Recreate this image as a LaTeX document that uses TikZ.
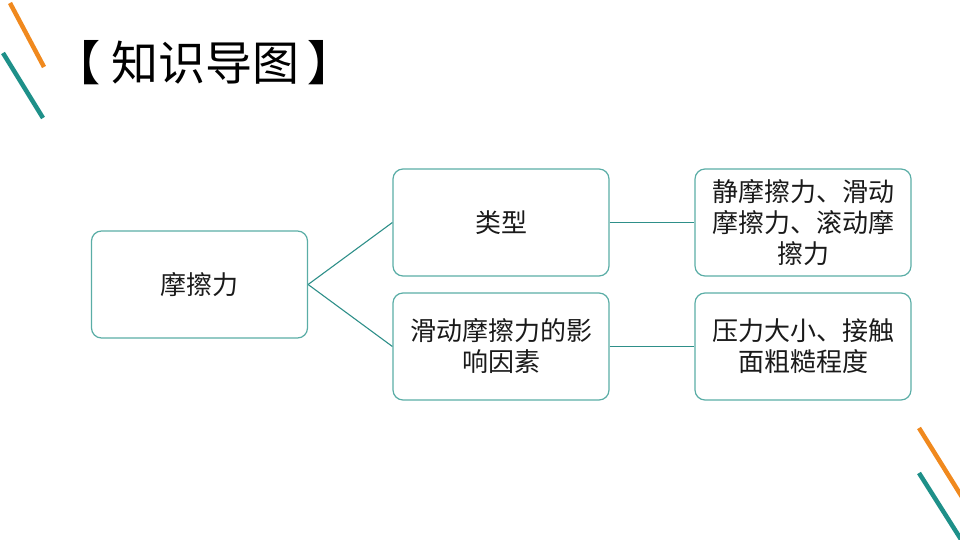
\documentclass[tikz,border=0pt]{standalone}
\usepackage{fontspec}
\newfontfamily\cjk{Noto Sans CJK SC}
\newfontfamily\cjkb{Noto Sans CJK SC Bold}
\definecolor{boxline}{HTML}{5AADA6}
\definecolor{conn}{HTML}{2E8F89}
\definecolor{deco1}{HTML}{F0891E}
\definecolor{deco2}{HTML}{1E9089}
\definecolor{txt}{HTML}{1A1A1A}
\tikzset{
  mapbox/.style={draw=boxline, line width=1.2pt, rounded corners=10pt, minimum width=216pt, minimum height=107pt, inner sep=0pt, align=center, text width=205pt, font=\cjk\fontsize{26}{31}\selectfont, text=txt},
  conline/.style={draw=conn, line width=1.1pt},
  decoline/.style={line width=4.5pt},
  titletext/.style={inner sep=0pt, font=\cjk\fontsize{47}{52}\selectfont, text=black}
}
\begin{document}
\begin{tikzpicture}[x=1pt,y=-1pt]
\useasboundingbox (0,0) rectangle (960,540);
% decorations
\draw[decoline, deco1] (10,3) -- (44,67);
\draw[decoline, deco2] (3,53) -- (43,118);
\draw[decoline, deco1] (919,428) -- (962,497);
\draw[decoline, deco2] (919,473) -- (962,541);
% title
\node[titletext, anchor=center] (title) at (205,63) {知识导图};
\node[titletext, anchor=east] (lb) at (101,63) {\cjkb 【};
\node[titletext, anchor=west] (rb) at (307,63) {\cjkb 】};
% boxes
\node[mapbox] (root) at (199.5,284.5) {摩擦力};
\node[mapbox] (type) at (501,222.5) {类型};
\node[mapbox] (fact) at (501,346.5) {滑动摩擦力的影\\响因素};
\node[mapbox] (typed) at (803,222.5) {静摩擦力、滑动\\摩擦力、滚动摩\\擦力};
\node[mapbox] (factd) at (803,346.5) {压力大小、接触\\面粗糙程度};
% connectors
\draw[conline] (root.east) -- (type.west);
\draw[conline] (root.east) -- (fact.west);
\draw[conline] (type.east) -- (typed.west);
\draw[conline] (fact.east) -- (factd.west);
\end{tikzpicture}
\end{document}
